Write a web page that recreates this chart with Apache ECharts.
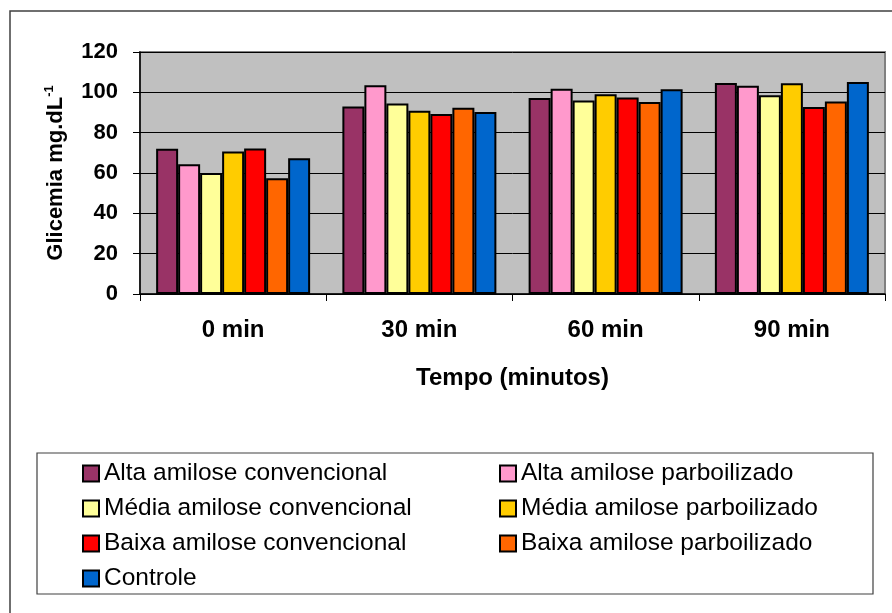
<!DOCTYPE html>
<html>
<head>
<meta charset="utf-8">
<script src="https://cdn.jsdelivr.net/npm/echarts@6/dist/echarts.min.js"></script>
<style>
html,body{margin:0;padding:0;background:#fff;}
#chart{width:892px;height:613px;}
</style>
</head>
<body>
<div id="chart"></div>
<script>
var categories = ['0 min', '30 min', '60 min', '90 min'];
var seriesNames = [
  'Alta amilose convencional',
  'Alta amilose parboilizado',
  'Média amilose convencional',
  'Média amilose parboilizado',
  'Baixa amilose convencional',
  'Baixa amilose parboilizado',
  'Controle'
];
var altaConv = [72, 93, 97.2, 104.6];
var altaParb = [64.3, 103.5, 101.8, 103.3];
var mediaConv = [60, 94.5, 95.9, 98.5];
var mediaParb = [70.6, 90.9, 99, 104.5];
var baixaConv = [72.2, 89.3, 97.5, 92.7];
var baixaParb = [57.4, 92.4, 95.2, 95.4];
var controle = [67.3, 90.2, 101.5, 105.1];
var yTicks = [0, 20, 40, 60, 80, 100, 120];

var colors = ['#993366', '#FF99CC', '#FFFF99', '#FFCC00', '#FF0000', '#FF6600', '#0066CC'];
var allData = [altaConv, altaParb, mediaConv, mediaParb, baixaConv, baixaParb, controle];

var chart = echarts.init(document.getElementById('chart'));
var font = '"Liberation Sans", Arial, sans-serif';

var series = seriesNames.map(function (n, i) {
  return {
    name: n,
    type: 'bar',
    data: allData[i],
    barWidth: 22,
    barGap: '0%',
    itemStyle: { color: colors[i], borderColor: '#000', borderWidth: 2 }
  };
});

var legendText = { fontSize: 24.5, color: '#000', fontFamily: font, lineHeight: 22 };

chart.setOption({
  animation: false,
  backgroundColor: '#fff',
  textStyle: { fontFamily: font },
  graphic: [
    { type: 'rect', shape: { x: 10, y: 11, width: 900, height: 700 }, style: { fill: 'none', stroke: '#404040', lineWidth: 1.5 }, z: -10 },
    { type: 'rect', shape: { x: 37, y: 453, width: 836, height: 141 }, style: { fill: '#fff', stroke: '#404040', lineWidth: 1.2 }, z: -5 }
  ],
  grid: {
    left: 140, top: 52, right: 7, bottom: 319,
    show: true, backgroundColor: '#C0C0C0', borderColor: '#808080', borderWidth: 2
  },
  legend: [
    {
      data: [seriesNames[0], seriesNames[2], seriesNames[4], seriesNames[6]],
      orient: 'vertical', left: 82, top: 461, padding: 0, height: 150,
      icon: 'rect', itemWidth: 16, itemHeight: 16, itemGap: 10,
      textStyle: legendText
    },
    {
      data: [seriesNames[1], seriesNames[3], seriesNames[5]],
      orient: 'vertical', left: 499, top: 461, padding: 0, height: 150,
      icon: 'rect', itemWidth: 16, itemHeight: 16, itemGap: 10,
      textStyle: legendText
    }
  ],
  xAxis: {
    type: 'category',
    data: categories,
    name: 'Tempo (minutos)',
    nameLocation: 'middle',
    nameGap: 72,
    nameTextStyle: { fontSize: 24, fontWeight: 'bold', color: '#000', fontFamily: font },
    axisLine: { lineStyle: { color: '#000', width: 1.5 } },
    axisTick: { show: true, length: 7, lineStyle: { color: '#000' } },
    axisLabel: { margin: 24, fontSize: 24, fontWeight: 'bold', color: '#000', fontFamily: font },
    splitLine: { show: false }
  },
  yAxis: {
    type: 'value',
    min: yTicks[0], max: yTicks[yTicks.length - 1], interval: 20,
    name: '{a|Glicemia mg.dL}{b|-1}',
    nameLocation: 'middle',
    nameRotate: 90,
    nameGap: 71,
    nameTextStyle: {
      color: '#000',
      rich: {
        a: { fontSize: 22, fontWeight: 'bold', color: '#000', fontFamily: font, lineHeight: 26 },
        b: { fontSize: 13, fontWeight: 'bold', color: '#000', fontFamily: font, verticalAlign: 'top', lineHeight: 13 }
      }
    },
    axisLine: { show: true, lineStyle: { color: '#000', width: 1.5 } },
    axisTick: { show: true, length: 7, lineStyle: { color: '#000' } },
    axisLabel: { margin: 22, fontSize: 22, fontWeight: 'bold', color: '#000', fontFamily: font },
    splitLine: { show: true, lineStyle: { color: '#000', width: 1 } }
  },
  series: series
});
</script>
</body>
</html>
